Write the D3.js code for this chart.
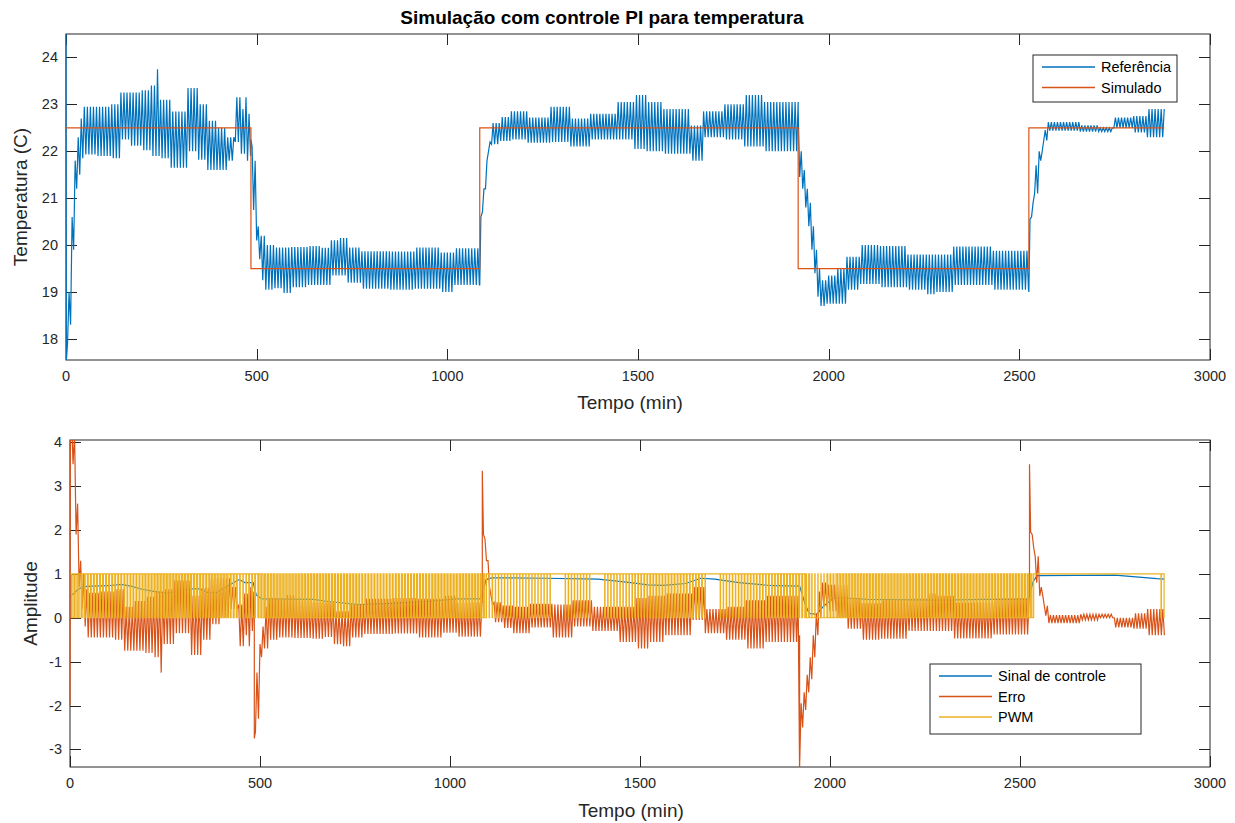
<!DOCTYPE html>
<html>
<head>
<meta charset="utf-8">
<script src="https://cdn.jsdelivr.net/npm/d3@7"></script>
<style>
  body { margin: 0; background: #fff; }
  svg { font-family: "Liberation Sans", Arial, Helvetica, sans-serif; }
</style>
</head>
<body>
<svg id="chart" width="1235" height="823"></svg>
<script>
// ---- data ----

// setpoint ("Simulado") as a step signal
const setpointTimes = [0, 485, 1085, 1920, 2525, 2880];
const setpointValues = [22.5, 19.5, 22.5, 19.5, 22.5];
// measured temperature at each setpoint change (from the error spikes)
const stepTemps = [22.25, 19.15, 22.9, 19.0];

// first samples of the measured temperature
const tempStartTimes = [0, 1, 4];
const tempStartValues = [24.5, 17.55, 17.9];

// upper / lower envelope of the oscillating temperature ("Referência")
const envTimes = [8, 16, 24, 32, 40, 48, 80, 120, 144, 170, 197, 223, 238, 246, 275, 318, 345, 370, 400, 424,
  441, 460, 472, 480, 486, 491, 497, 504, 512, 524, 546, 570, 590, 633, 668, 695, 720, 738, 773, 852,
  913, 983, 1018, 1086, 1090, 1098, 1106, 1114, 1140, 1166, 1210, 1270, 1323, 1375, 1445, 1489, 1524, 1568, 1637, 1672,
  1725, 1777, 1830, 1921, 1930, 1938, 1946, 1954, 1962, 1970, 1978, 1996, 2020, 2048, 2083, 2135, 2205, 2260, 2284, 2327,
  2432, 2526, 2532, 2540, 2552, 2562, 2575, 2659, 2712, 2747, 2799, 2834];
const envHigh = [19.0, 20.6, 21.8, 22.3, 22.7, 22.95, 22.95, 23.0, 23.25, 23.25, 23.3, 23.4, 23.75, 23.1, 22.85, 23.35, 23.0, 22.65, 22.5, 22.3,
  23.15, 22.9, 23.15, 22.8, 22.1, 21.8, 20.8, 20.4, 20.2, 20.0, 19.95, 19.95, 19.96, 19.98, 19.94, 20.1, 20.15, 19.95, 19.87, 19.86,
  19.95, 19.84, 19.93, 20.6, 21.2, 21.8, 22.2, 22.6, 22.73, 22.85, 22.72, 22.95, 22.7, 22.8, 23.05, 23.2, 23.05, 22.9, 22.55, 22.85,
  23.0, 23.2, 23.05, 22.0, 21.6, 21.2, 20.9, 20.4, 19.9, 19.5, 19.25, 19.35, 19.5, 19.75, 20.0, 19.98, 19.8, 19.8, 19.8, 19.97,
  19.88, 20.55, 20.9, 21.7, 22.0, 22.45, 22.62, 22.55, 22.5, 22.72, 22.75, 22.9];
const envLow = [18.3, 19.9, 21.2, 21.5, 21.85, 21.93, 21.9, 21.85, 22.25, 22.12, 22.02, 21.9, 21.9, 21.85, 21.65, 22.0, 21.82, 21.6, 21.6, 21.8,
  22.2, 21.95, 21.8, 21.9, 21.75, 20.75, 20.1, 19.7, 19.25, 19.05, 19.08, 18.98, 19.1, 19.15, 19.15, 19.35, 19.35, 19.2, 19.07, 19.05,
  19.07, 19.0, 19.15, 19.85, 20.7, 21.2, 22.0, 22.15, 22.22, 22.25, 22.18, 22.2, 22.1, 22.25, 22.25, 22.05, 22.0, 21.95, 21.8, 22.3,
  22.25, 22.1, 22.0, 21.45, 21.2, 20.8, 20.4, 19.9, 19.4, 18.9, 18.7, 18.75, 18.75, 19.05, 19.17, 19.1, 19.05, 18.95, 19.0, 19.15,
  19.05, 20.0, 20.6, 21.1, 21.8, 22.23, 22.44, 22.42, 22.42, 22.5, 22.4, 22.3];
const halfPeriod = 4; // minutes between a peak and the next trough

// control signal ("Sinal de controle")
const controlTimes = [0, 10, 20, 35, 60, 100, 135, 160, 190, 220, 255, 283, 320, 340, 365, 385, 410, 435, 445, 460,
  482, 490, 505, 640, 680, 760, 850, 950, 1020, 1082, 1095, 1110, 1250, 1390, 1476, 1520, 1560, 1620, 1660, 1697,
  1760, 1850, 1920, 1935, 1945, 1965, 1985, 2010, 2040, 2100, 2300, 2400, 2521, 2535, 2545, 2750, 2860, 2880];
const controlValues = [0.5, 0.55, 0.64, 0.71, 0.72, 0.73, 0.76, 0.72, 0.65, 0.6, 0.56, 0.6, 0.66, 0.66, 0.57, 0.57, 0.7, 0.82, 0.87, 0.8,
  0.8, 0.52, 0.43, 0.42, 0.37, 0.3, 0.33, 0.38, 0.43, 0.43, 0.87, 0.91, 0.9, 0.88, 0.8, 0.75, 0.74, 0.78, 0.9, 0.88,
  0.8, 0.73, 0.72, 0.3, 0.1, 0.08, 0.28, 0.45, 0.45, 0.42, 0.4, 0.42, 0.42, 0.83, 0.96, 0.97, 0.89, 0.88];

// PWM
const pwmPeriod = 8;
const pwmOnSpans = [[1258, 1290], [1363, 1395], [1666, 1697], [2535, 2858]];

const xTicks = [0, 500, 1000, 1500, 2000, 2500, 3000];
const tempTicks = [18, 19, 20, 21, 22, 23, 24];
const ampTicks = [-3, -2, -1, 0, 1, 2, 3, 4];

const colors = { blue: "#0072BD", orange: "#D95319", yellow: "#EDB120", axis: "#262626" };
const tEnd = 2880;

// ---- build the series ----
const spAt = t => setpointValues[Math.min(d3.bisectRight(setpointTimes, t) - 1, setpointValues.length - 1)];

const tempSeries = tempStartTimes.map((t, i) => ({ t: t, v: tempStartValues[i] }));
let k = 0;
for (let t = envTimes[0]; t <= tEnd; t += halfPeriod, k++) {
  const i = d3.bisectRight(envTimes, t) - 1;
  tempSeries.push({ t: t, v: k % 2 === 0 ? envHigh[i] : envLow[i] });
}
setpointTimes.slice(1, -1).forEach((ts, j) => tempSeries.push({ t: ts, v: stepTemps[j], step: j }));
tempSeries.sort((a, b) => a.t - b.t);

const errorSeries = [];
tempSeries.forEach(p => {
  if (p.step !== undefined) {
    errorSeries.push({ t: p.t, v: setpointValues[p.step] - p.v });
    errorSeries.push({ t: p.t, v: setpointValues[p.step + 1] - p.v });
  } else {
    errorSeries.push({ t: p.t, v: spAt(p.t) - p.v });
  }
});

const setpointSeries = [];
setpointValues.forEach((v, i) => {
  setpointSeries.push({ t: setpointTimes[i], v: v });
  setpointSeries.push({ t: setpointTimes[i + 1], v: v });
});

const controlSeries = controlTimes.map((t, i) => ({ t: t, v: controlValues[i] }));

const pwmSeries = [];
for (let tk = 0; tk < tEnd; tk += pwmPeriod) {
  const u = controlValues[d3.bisectRight(controlTimes, tk) - 1];
  const tNext = Math.min(tk + pwmPeriod, tEnd);
  const on = pwmOnSpans.some(s => tk >= s[0] && tk < s[1]);
  pwmSeries.push({ t: tk, v: 1 });
  if (on) {
    pwmSeries.push({ t: tNext, v: 1 });
  } else {
    const tOff = Math.min(tk + u * pwmPeriod, tEnd);
    pwmSeries.push({ t: tOff, v: 1 });
    pwmSeries.push({ t: tOff, v: 0 });
    pwmSeries.push({ t: tNext, v: 0 });
  }
}

// ---- drawing ----
const svg = d3.select("#chart");

function drawAxesBox(g, x, y, xt, yt, box) {
  const tick = 11;
  const ax = g.append("g").attr("stroke", colors.axis).attr("stroke-width", 1).attr("fill", "none");
  ax.append("rect")
    .attr("x", box.left).attr("y", box.top)
    .attr("width", box.right - box.left).attr("height", box.bottom - box.top);
  xt.forEach(v => {
    const px = Math.round(x(v)) + 0.5;
    ax.append("line").attr("x1", px).attr("x2", px).attr("y1", box.bottom).attr("y2", box.bottom - tick);
    ax.append("line").attr("x1", px).attr("x2", px).attr("y1", box.top).attr("y2", box.top + tick);
  });
  yt.forEach(v => {
    const py = Math.round(y(v)) + 0.5;
    ax.append("line").attr("x1", box.left).attr("x2", box.left + tick).attr("y1", py).attr("y2", py);
    ax.append("line").attr("x1", box.right).attr("x2", box.right - tick).attr("y1", py).attr("y2", py);
  });
  g.append("g").selectAll("text").data(xt).join("text")
    .attr("x", d => x(d)).attr("y", box.bottom + 21)
    .attr("text-anchor", "middle").attr("font-size", 14.5).attr("fill", colors.axis)
    .text(d => d);
  g.append("g").selectAll("text").data(yt).join("text")
    .attr("x", box.left - 8).attr("y", d => y(d) + 5)
    .attr("text-anchor", "end").attr("font-size", 14.5).attr("fill", colors.axis)
    .text(d => d);
}

function drawLegend(g, x, y, w, h, items) {
  g.append("rect").attr("x", x).attr("y", y).attr("width", w).attr("height", h)
    .attr("fill", "#fff").attr("stroke", colors.axis).attr("stroke-width", 1);
  items.forEach((it, i) => {
    const cy = y + 12 + i * 20.5;
    g.append("line").attr("x1", x + 9).attr("x2", x + 62).attr("y1", cy).attr("y2", cy)
      .attr("stroke", it.color).attr("stroke-width", 1.5);
    g.append("text").attr("x", x + 68).attr("y", cy + 5).attr("font-size", 14.5)
      .attr("fill", "#000").text(it.label);
  });
}

// top panel
const box1 = { left: 66, right: 1210, top: 34, bottom: 360 };
const x1 = d3.scaleLinear().domain([0, 3000]).range([box1.left, box1.right]);
const y1 = d3.scaleLinear().domain([17.55, 24.5]).range([box1.bottom, box1.top]);
const g1 = svg.append("g");
g1.append("clipPath").attr("id", "clip1").append("rect")
  .attr("x", box1.left - 1).attr("y", box1.top)
  .attr("width", box1.right - box1.left + 1).attr("height", box1.bottom - box1.top);
drawAxesBox(g1, x1, y1, xTicks, tempTicks, box1);
const line1 = d3.line().x(d => x1(d.t)).y(d => y1(d.v));
const plot1 = g1.append("g").attr("clip-path", "url(#clip1)");
plot1.append("path").datum(tempSeries).attr("d", line1)
  .attr("fill", "none").attr("stroke", colors.blue).attr("stroke-width", 1.2);
plot1.append("path").datum(setpointSeries).attr("d", line1)
  .attr("fill", "none").attr("stroke", colors.orange).attr("stroke-width", 1.2);
g1.append("text").attr("x", 630).attr("y", 409)
  .attr("text-anchor", "middle").attr("font-size", 19).attr("fill", colors.axis).text("Tempo (min)");
g1.append("text").attr("transform", `translate(27,${(box1.top + box1.bottom) / 2}) rotate(-90)`)
  .attr("text-anchor", "middle").attr("font-size", 19).attr("fill", colors.axis).text("Temperatura (C)");
g1.append("text").attr("x", 602).attr("y", 24)
  .attr("text-anchor", "middle").attr("font-size", 19).attr("font-weight", "bold").attr("fill", "#000")
  .text("Simulação com controle PI para temperatura");
drawLegend(g1, 1033, 55, 144, 47, [
  { label: "Referência", color: colors.blue },
  { label: "Simulado", color: colors.orange }
]);

// bottom panel
const box2 = { left: 70, right: 1210, top: 440, bottom: 767 };
const x2 = d3.scaleLinear().domain([0, 3000]).range([box2.left, box2.right]);
const y2 = d3.scaleLinear().domain([-3.4, 4.05]).range([box2.bottom, box2.top]);
const g2 = svg.append("g");
g2.append("clipPath").attr("id", "clip2").append("rect")
  .attr("x", box2.left - 1).attr("y", box2.top)
  .attr("width", box2.right - box2.left + 1).attr("height", box2.bottom - box2.top);
drawAxesBox(g2, x2, y2, xTicks, ampTicks, box2);
const line2 = d3.line().x(d => x2(d.t)).y(d => y2(d.v));
const plot2 = g2.append("g").attr("clip-path", "url(#clip2)");
plot2.append("path").datum(controlSeries).attr("d", line2)
  .attr("fill", "none").attr("stroke", colors.blue).attr("stroke-width", 1.2);
plot2.append("path").datum(errorSeries).attr("d", line2)
  .attr("fill", "none").attr("stroke", colors.orange).attr("stroke-width", 1.2);
plot2.append("path").datum(pwmSeries).attr("d", line2)
  .attr("fill", "none").attr("stroke", colors.yellow).attr("stroke-width", 1.2);
g2.append("text").attr("x", 631).attr("y", 817)
  .attr("text-anchor", "middle").attr("font-size", 19).attr("fill", colors.axis).text("Tempo (min)");
g2.append("text").attr("transform", `translate(37,${(box2.top + box2.bottom) / 2}) rotate(-90)`)
  .attr("text-anchor", "middle").attr("font-size", 19).attr("fill", colors.axis).text("Amplitude");
drawLegend(g2, 930, 664, 211, 70, [
  { label: "Sinal de controle", color: colors.blue },
  { label: "Erro", color: colors.orange },
  { label: "PWM", color: colors.yellow }
]);
</script>
</body>
</html>
